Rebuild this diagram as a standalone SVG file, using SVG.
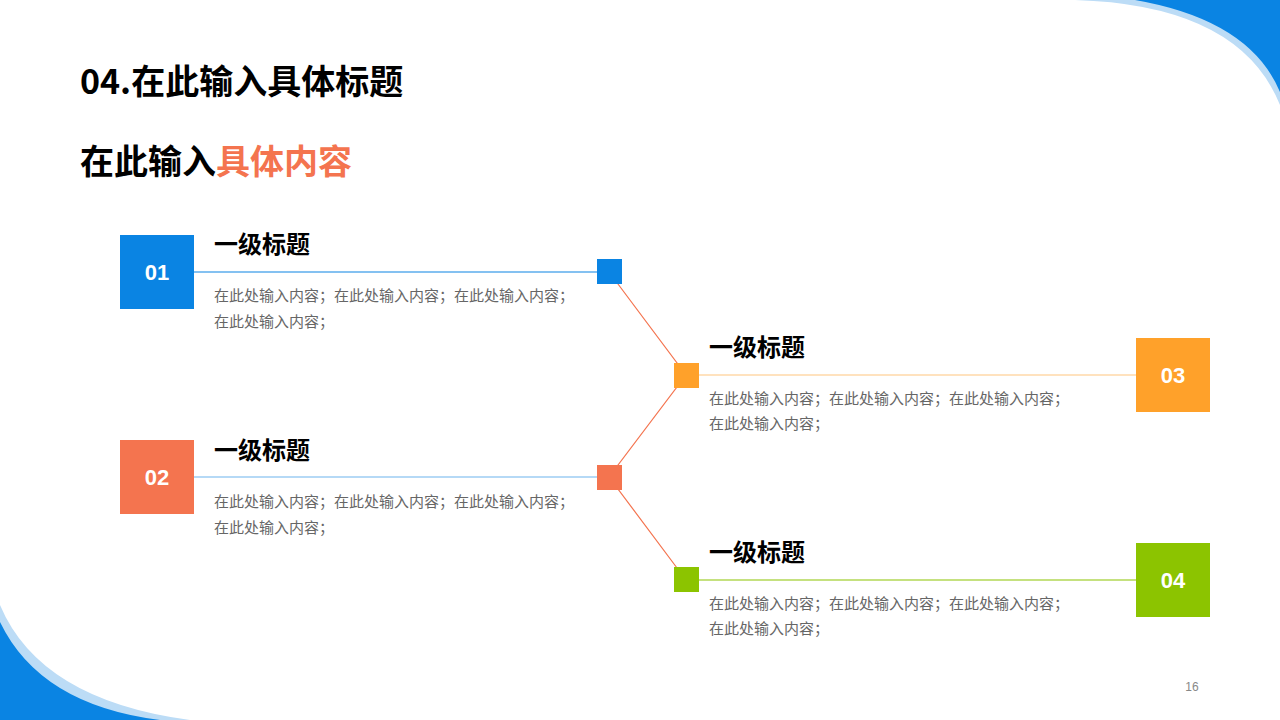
<svg xmlns="http://www.w3.org/2000/svg" width="1280" height="720" viewBox="0 0 1280 720">
<style>
.h{font-family:"Noto Sans CJK SC",sans-serif;font-weight:700;fill:#000}
.b{font-family:"Noto Sans CJK SC",sans-serif;font-size:15px;fill:#666}
.n{font-family:"Liberation Sans",sans-serif;font-weight:700;font-size:22px;fill:#fff;text-anchor:middle}
</style>
<rect width="1280" height="720" fill="#fff"/>
<path d="M1075,0 Q1240,5 1280,105 L1280,0 Z" fill="#bcdcf6"/>
<path d="M1135,0 Q1250,20 1280,92 L1280,0 Z" fill="#0a84e3"/>
<path d="M0,605 Q40,700 190,720 L0,720 Z" fill="#bcdcf6"/>
<path d="M0,622 Q40,705 160,720 L0,720 Z" fill="#0a84e3"/>
<text class="h" x="80" y="94" font-size="34">04.在此输入具体标题</text>
<text class="h" x="80" y="174" font-size="34">在此输入<tspan fill="#f4744f">具体内容</tspan></text>
<g id="connectors" stroke-width="1.2" fill="none">
<line x1="194" y1="272" x2="597" y2="272" stroke="#0a84e3"/>
<line x1="194" y1="477" x2="597" y2="477" stroke="#0a84e3" stroke-opacity="0.6"/>
<line x1="699" y1="375" x2="1136" y2="375" stroke="#ffa12a" stroke-opacity="0.6"/>
<line x1="699" y1="580" x2="1136" y2="580" stroke="#8cc400"/>
<polyline points="609,272 686,375 609,477 686,580" stroke="#f4744f"/>
</g>
<g id="n1"><rect x="120" y="235" width="74" height="74" fill="#0a84e3"/><text class="n" x="157" y="280">01</text>
<rect x="597" y="259" width="25" height="25" fill="#0a84e3"/>
<text class="h" x="214" y="253" font-size="24">一级标题</text>
<text class="b" x="214" y="301">在此处输入内容；在此处输入内容；在此处输入内容；</text><text class="b" x="214" y="327">在此处输入内容；</text></g>
<g id="n2"><rect x="120" y="440" width="74" height="74" fill="#f4744f"/><text class="n" x="157" y="485">02</text>
<rect x="597" y="465" width="25" height="25" fill="#f4744f"/>
<text class="h" x="214" y="459" font-size="24">一级标题</text>
<text class="b" x="214" y="507">在此处输入内容；在此处输入内容；在此处输入内容；</text><text class="b" x="214" y="533">在此处输入内容；</text></g>
<g id="n3"><rect x="1136" y="338" width="74" height="74" fill="#ffa12a"/><text class="n" x="1173" y="383">03</text>
<rect x="674" y="363" width="25" height="25" fill="#ffa12a"/>
<text class="h" x="709" y="356" font-size="24">一级标题</text>
<text class="b" x="709" y="404">在此处输入内容；在此处输入内容；在此处输入内容；</text><text class="b" x="709" y="429">在此处输入内容；</text></g>
<g id="n4"><rect x="1136" y="543" width="74" height="74" fill="#8cc400"/><text class="n" x="1173" y="588">04</text>
<rect x="674" y="567" width="25" height="25" fill="#8cc400"/>
<text class="h" x="709" y="561" font-size="24">一级标题</text>
<text class="b" x="709" y="609">在此处输入内容；在此处输入内容；在此处输入内容；</text><text class="b" x="709" y="634">在此处输入内容；</text></g>
<text x="1192" y="691" font-family="Liberation Sans,sans-serif" font-size="12" fill="#888" text-anchor="middle">16</text>
</svg>
